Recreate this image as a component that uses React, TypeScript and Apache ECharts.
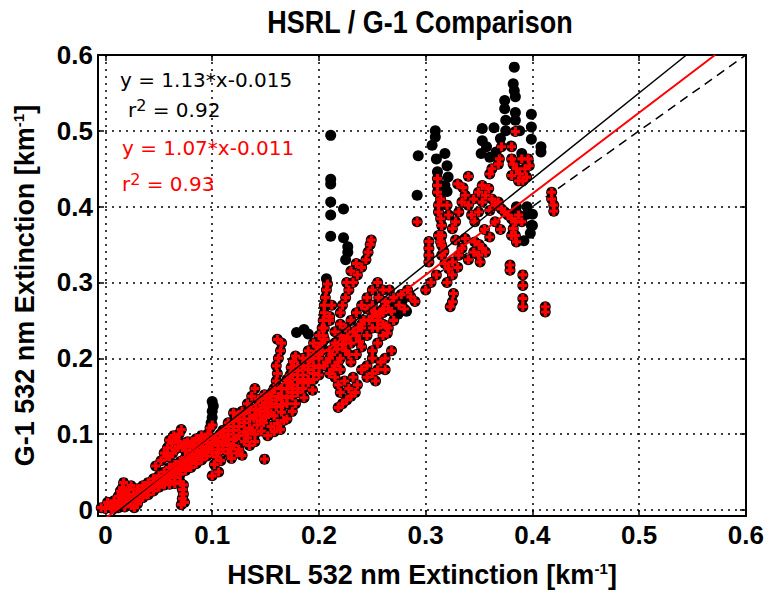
import React, { useEffect, useRef } from 'react';
import * as echarts from 'echarts';

// ---------- axis ticks ----------
const xTicks = [0, 0.1, 0.2, 0.3, 0.4, 0.5, 0.6];
const xTickLabels = ['0', '0.1', '0.2', '0.3', '0.4', '0.5', '0.6'];
const yTicks = [0, 0.1, 0.2, 0.3, 0.4, 0.5, 0.6];
const yTickLabels = ['0', '0.1', '0.2', '0.3', '0.4', '0.5', '0.6'];
const xRange = [-0.007, 0.6];
const yRange = [-0.008, 0.6];

// ---------- fits ----------
const fitAll = [1.13, -0.015]; // slope, intercept (black)
const fitSub = [1.07, -0.011]; // slope, intercept (red)
const oneToOne = [1, 0];

// ---------- G-1 points without the red subset (black only) ----------
const blackOnly: number[][] = [
  [0.099, 0.115], [0.1, 0.122], [0.1, 0.13], [0.101, 0.137], [0.1, 0.143],
  [0.179, 0.234], [0.186, 0.238], [0.19, 0.232],
  [0.207, 0.305], [0.225, 0.33], [0.227, 0.34],
  [0.211, 0.494], [0.211, 0.436], [0.211, 0.43], [0.211, 0.406], [0.223, 0.397],
  [0.211, 0.389], [0.211, 0.361], [0.223, 0.359], [0.227, 0.347],
  [0.27, 0.27], [0.278, 0.276], [0.282, 0.262], [0.274, 0.258],
  [0.383, 0.584], [0.382, 0.562], [0.383, 0.553], [0.384, 0.545], [0.374, 0.54],
  [0.374, 0.529], [0.384, 0.524], [0.399, 0.522], [0.375, 0.514], [0.384, 0.514],
  [0.399, 0.505], [0.353, 0.503], [0.364, 0.504], [0.375, 0.5], [0.399, 0.489],
  [0.353, 0.487], [0.408, 0.479], [0.408, 0.472], [0.309, 0.5], [0.309, 0.492],
  [0.306, 0.481], [0.293, 0.467], [0.318, 0.47], [0.31, 0.463], [0.32, 0.454],
  [0.311, 0.446], [0.321, 0.439], [0.292, 0.415], [0.318, 0.428], [0.32, 0.42],
  [0.357, 0.479], [0.366, 0.472], [0.36, 0.465], [0.352, 0.47], [0.37, 0.49],
  [0.38, 0.48], [0.39, 0.47], [0.388, 0.5],
  [0.38, 0.39], [0.39, 0.385], [0.395, 0.39], [0.399, 0.375], [0.385, 0.4],
  [0.395, 0.4], [0.4, 0.39], [0.398, 0.365], [0.392, 0.355], [0.4, 0.375],
];

// ---------- red subset (also G-1 points) ----------
const redLow: number[][] = [
  [-0.004, 0.003], [0, 0.002], [0.003, 0.006], [0.006, 0.002], [0.009, 0.005], [0.012, 0.003],
  [0.002, 0.01], [0.015, 0.008], [0.018, 0.004], [0.021, 0.009], [0.024, 0.006], [0.027, 0.003],
  [0.03, 0.008], [0.028, 0.015], [0.026, 0.02],
  [0.016, 0.015], [0.017, 0.022], [0.016, 0.029], [0.017, 0.036], [0.014, 0.025], [0.02, 0.02],
  [0.02, 0.012], [0.025, 0.016], [0.03, 0.02], [0.035, 0.024], [0.04, 0.028], [0.045, 0.033],
  [0.05, 0.037], [0.055, 0.042], [0.06, 0.047], [0.065, 0.051], [0.07, 0.056], [0.075, 0.06],
  [0.08, 0.065], [0.085, 0.07], [0.09, 0.075], [0.095, 0.08], [0.1, 0.085],
  [0.03, 0.012], [0.04, 0.02], [0.05, 0.03], [0.06, 0.038], [0.07, 0.047], [0.08, 0.056],
  [0.09, 0.066], [0.1, 0.076],
  [0.03, 0.028], [0.04, 0.036], [0.05, 0.045], [0.06, 0.056], [0.07, 0.064], [0.08, 0.074],
  [0.09, 0.084], [0.1, 0.094],
  [0.005, 0.004], [0.01, 0.008], [0.013, 0.012], [0.022, 0.015], [0.027, 0.02], [0.032, 0.022],
  [0.037, 0.026], [0.042, 0.031], [0.047, 0.035], [0.052, 0.04], [0.057, 0.044], [0.062, 0.049],
  [0.067, 0.053], [0.072, 0.058], [0.077, 0.062], [0.082, 0.067], [0.087, 0.072], [0.092, 0.078],
  [0.097, 0.083], [0.035, 0.016], [0.045, 0.025], [0.055, 0.034], [0.065, 0.043], [0.075, 0.052],
  [0.085, 0.061], [0.095, 0.071], [0.035, 0.032], [0.045, 0.041], [0.055, 0.05], [0.065, 0.06],
  [0.075, 0.069], [0.085, 0.079], [0.095, 0.089], [0.008, 0.012], [0.012, 0.018], [0.022, 0.027],
  [0.024, 0.032],
  [0.045, 0.03], [0.05, 0.031], [0.055, 0.033], [0.06, 0.034], [0.065, 0.035], [0.07, 0.037],
  [0.073, 0.033], [0.072, 0.027], [0.073, 0.021], [0.072, 0.015], [0.074, 0.01], [0.071, 0.007],
  [0.055, 0.075], [0.058, 0.082], [0.062, 0.088], [0.066, 0.094], [0.069, 0.1], [0.071, 0.106],
  [0.065, 0.08], [0.072, 0.085], [0.077, 0.09], [0.081, 0.09], [0.085, 0.094], [0.09, 0.098],
  [0.06, 0.07], [0.052, 0.065], [0.047, 0.058], [0.075, 0.078],
  [0.057, 0.07], [0.063, 0.075], [0.068, 0.082], [0.074, 0.088], [0.079, 0.083], [0.083, 0.086],
  [0.088, 0.09], [0.093, 0.095], [0.064, 0.098], [0.06, 0.092], [0.068, 0.09],
  [0.096, 0.1], [0.098, 0.108], [0.1, 0.112], [0.103, 0.095], [0.105, 0.088], [0.106, 0.08],
  [0.104, 0.07], [0.102, 0.06], [0.106, 0.05], [0.1, 0.045], [0.108, 0.065],
];

const redMid: number[][] = [
  [0.11, 0.095], [0.12, 0.105], [0.13, 0.115], [0.14, 0.125], [0.15, 0.135], [0.16, 0.145],
  [0.17, 0.16], [0.18, 0.172], [0.19, 0.185], [0.2, 0.2],
  [0.11, 0.085], [0.12, 0.093], [0.13, 0.103], [0.15, 0.122], [0.17, 0.148], [0.18, 0.16],
  [0.19, 0.172], [0.2, 0.188],
  [0.11, 0.105], [0.12, 0.117], [0.13, 0.127], [0.15, 0.147], [0.17, 0.172], [0.18, 0.184],
  [0.19, 0.197], [0.2, 0.212],
  [0.105, 0.09], [0.115, 0.1], [0.125, 0.11], [0.135, 0.12], [0.145, 0.13], [0.155, 0.14],
  [0.165, 0.15], [0.175, 0.165], [0.185, 0.178], [0.195, 0.19], [0.115, 0.088], [0.125, 0.098],
  [0.135, 0.108], [0.145, 0.118], [0.155, 0.128], [0.165, 0.138], [0.175, 0.155], [0.185, 0.168],
  [0.195, 0.18], [0.115, 0.115], [0.125, 0.125], [0.135, 0.132], [0.155, 0.15], [0.165, 0.16],
  [0.175, 0.178], [0.185, 0.19], [0.195, 0.205], [0.105, 0.075], [0.117, 0.08], [0.123, 0.075],
  [0.133, 0.095], [0.137, 0.105], [0.113, 0.096],
  [0.14, 0.1], [0.146, 0.104], [0.152, 0.098], [0.158, 0.103], [0.164, 0.106],
  [0.142, 0.112], [0.148, 0.115], [0.155, 0.11], [0.161, 0.114], [0.167, 0.118],
  [0.139, 0.121], [0.145, 0.125], [0.152, 0.128], [0.158, 0.124], [0.165, 0.129],
  [0.141, 0.133], [0.147, 0.138], [0.153, 0.141], [0.16, 0.136], [0.166, 0.139],
  [0.143, 0.146], [0.149, 0.152], [0.156, 0.155], [0.162, 0.15],
  [0.11, 0.08], [0.115, 0.075], [0.12, 0.085], [0.125, 0.08], [0.13, 0.09], [0.135, 0.085],
  [0.14, 0.09], [0.118, 0.068], [0.128, 0.072], [0.112, 0.09], [0.122, 0.095], [0.132, 0.1],
  [0.108, 0.1], [0.115, 0.11], [0.125, 0.12], [0.12, 0.128],
  [0.158, 0.16], [0.16, 0.17], [0.161, 0.18], [0.16, 0.19], [0.162, 0.2], [0.164, 0.21],
  [0.165, 0.22], [0.161, 0.225], [0.172, 0.168], [0.173, 0.178], [0.174, 0.188], [0.176, 0.196],
  [0.178, 0.203],
  [0.18, 0.19], [0.185, 0.2], [0.19, 0.21], [0.195, 0.22], [0.2, 0.23], [0.205, 0.24],
  [0.21, 0.25], [0.19, 0.2], [0.2, 0.215], [0.205, 0.225],
  [0.17, 0.14], [0.175, 0.15], [0.18, 0.155], [0.185, 0.16], [0.19, 0.168], [0.195, 0.172],
  [0.2, 0.178], [0.178, 0.14], [0.186, 0.148], [0.194, 0.158], [0.17, 0.12], [0.175, 0.13],
  [0.149, 0.067],
  [0.133, 0.14], [0.137, 0.15], [0.14, 0.16], [0.128, 0.13],
];

const redUpper: number[][] = [
  [0.202, 0.21], [0.203, 0.22], [0.204, 0.23], [0.203, 0.24], [0.204, 0.25], [0.205, 0.26],
  [0.205, 0.27], [0.206, 0.28], [0.207, 0.29], [0.208, 0.298], [0.21, 0.255], [0.212, 0.27],
  [0.205, 0.19], [0.21, 0.2], [0.215, 0.19], [0.22, 0.2], [0.225, 0.21], [0.23, 0.22],
  [0.235, 0.23], [0.24, 0.24], [0.21, 0.21], [0.215, 0.22], [0.22, 0.23], [0.225, 0.24],
  [0.23, 0.25], [0.215, 0.235], [0.22, 0.245], [0.21, 0.18], [0.22, 0.185], [0.23, 0.195],
  [0.235, 0.205], [0.24, 0.215], [0.2, 0.205], [0.225, 0.225],
  [0.207, 0.195], [0.212, 0.205], [0.217, 0.212], [0.222, 0.218], [0.227, 0.228], [0.232, 0.235],
  [0.237, 0.24], [0.242, 0.25], [0.247, 0.25], [0.252, 0.262], [0.257, 0.258], [0.213, 0.185],
  [0.218, 0.195], [0.228, 0.205], [0.238, 0.222], [0.245, 0.23], [0.255, 0.24], [0.26, 0.245],
  [0.218, 0.135], [0.222, 0.14], [0.226, 0.145], [0.23, 0.15], [0.234, 0.155], [0.22, 0.155],
  [0.228, 0.16], [0.224, 0.17], [0.232, 0.175], [0.215, 0.175], [0.218, 0.165], [0.236, 0.165],
  [0.245, 0.175], [0.25, 0.18], [0.255, 0.185], [0.245, 0.19], [0.25, 0.2], [0.24, 0.185],
  [0.22, 0.26], [0.222, 0.27], [0.225, 0.28], [0.228, 0.29], [0.232, 0.3], [0.236, 0.31],
  [0.24, 0.32], [0.244, 0.33], [0.246, 0.34], [0.248, 0.35], [0.249, 0.356], [0.226, 0.3],
  [0.23, 0.315], [0.235, 0.325],
  [0.235, 0.26], [0.24, 0.27], [0.245, 0.28], [0.25, 0.29], [0.255, 0.3], [0.26, 0.29],
  [0.25, 0.27], [0.256, 0.28], [0.262, 0.275], [0.266, 0.29], [0.245, 0.265],
  [0.25, 0.21], [0.255, 0.22], [0.26, 0.23], [0.265, 0.24], [0.27, 0.25], [0.26, 0.26],
  [0.255, 0.25], [0.25, 0.24], [0.265, 0.265], [0.27, 0.28], [0.262, 0.2], [0.268, 0.21],
  [0.258, 0.195], [0.253, 0.17], [0.262, 0.185],
  [0.24, 0.245], [0.25, 0.255], [0.26, 0.265], [0.263, 0.243], [0.264, 0.233], [0.268, 0.262],
  [0.275, 0.27], [0.286, 0.281], [0.29, 0.275], [0.28, 0.265], [0.283, 0.29], [0.277, 0.284],
];

const redHigh: number[][] = [
  [0.384, 0.499], [0.292, 0.38],
  [0.311, 0.437], [0.311, 0.428], [0.311, 0.419], [0.314, 0.41], [0.312, 0.402], [0.312, 0.393],
  [0.314, 0.384], [0.315, 0.375], [0.315, 0.362], [0.315, 0.349], [0.317, 0.341],
  [0.303, 0.354], [0.303, 0.345], [0.303, 0.336], [0.303, 0.327],
  [0.32, 0.402], [0.3215, 0.389], [0.325, 0.371], [0.328, 0.38], [0.331, 0.393], [0.334, 0.406],
  [0.337, 0.415], [0.34, 0.402], [0.343, 0.389], [0.346, 0.38], [0.3495, 0.393], [0.353, 0.406],
  [0.356, 0.415], [0.359, 0.424], [0.353, 0.428], [0.3495, 0.419], [0.362, 0.41], [0.365, 0.402],
  [0.368, 0.406], [0.371, 0.397], [0.374, 0.393], [0.377, 0.389], [0.3805, 0.384], [0.384, 0.38],
  [0.387, 0.389], [0.39, 0.38], [0.382, 0.371], [0.384, 0.362], [0.385, 0.3535], [0.3805, 0.362],
  [0.353, 0.345], [0.3495, 0.336], [0.351, 0.327], [0.356, 0.34], [0.346, 0.3535], [0.337, 0.358],
  [0.334, 0.345], [0.331, 0.336], [0.325, 0.327], [0.3215, 0.318], [0.325, 0.31], [0.326, 0.2855],
  [0.325, 0.2746], [0.323, 0.268], [0.379, 0.323], [0.379, 0.316], [0.391, 0.31], [0.391, 0.296],
  [0.391, 0.279], [0.391, 0.268], [0.412, 0.268], [0.412, 0.261], [0.418, 0.419], [0.418, 0.41],
  [0.42, 0.402], [0.42, 0.394], [0.368, 0.456], [0.362, 0.45], [0.36, 0.443], [0.369, 0.463],
  [0.371, 0.479], [0.3805, 0.479], [0.3805, 0.463], [0.382, 0.456], [0.385, 0.45], [0.388, 0.443],
  [0.391, 0.434], [0.3945, 0.439], [0.397, 0.454], [0.396, 0.463], [0.39, 0.463], [0.393, 0.45],
  [0.387, 0.434], [0.3805, 0.441], [0.328, 0.356], [0.314, 0.3535], [0.315, 0.336], [0.318, 0.325],
  [0.312, 0.362],
  [0.3, 0.29], [0.305, 0.3], [0.31, 0.31], [0.32, 0.3], [0.33, 0.32], [0.34, 0.33], [0.345, 0.34],
  [0.35, 0.35], [0.36, 0.36], [0.37, 0.37], [0.365, 0.38], [0.355, 0.37], [0.36, 0.395],
  [0.345, 0.41], [0.335, 0.425], [0.33, 0.43], [0.34, 0.44],
];

const FONT_B = "'Liberation Sans', Arial, sans-serif";
const FONT_A = "'DejaVu Sans', sans-serif";
const PLUS = 'path://M0,2.6H2.6V0H5.4V2.6H8V5.4H5.4V8H2.6V5.4H0Z';

function fitLine(fit: number[]) {
  const [m, b] = fit;
  const x0 = 0;
  const x1 = Math.min(xRange[1], (yRange[1] - b) / m);
  return [[x0, m * x0 + b], [x1, m * x1 + b]];
}

export default function App() {
  const ref = useRef<HTMLDivElement>(null);
  useEffect(() => {
    const chart = echarts.init(ref.current!, null, { renderer: 'svg' });
    const allRed = [...redLow, ...redMid, ...redUpper, ...redHigh];
    const black = [...blackOnly, ...allRed];
    const frame = { show: true, onZero: false, lineStyle: { color: '#000', width: 2 } };
    const tick = (vals: number[]) => ({
      show: true, inside: true, length: 6, customValues: vals,
      lineStyle: { color: '#000', width: 1.5 },
    });
    const grid = { show: true, lineStyle: { color: '#000', type: [2, 5], width: 1.5 } };
    const tickFont = { color: '#000', fontFamily: FONT_B, fontWeight: 'bold', fontSize: 26 };
    const nameStyle = {
      color: '#000', fontFamily: FONT_B, fontWeight: 'bold', fontSize: 27,
      rich: {
        s: { color: '#000', fontFamily: FONT_B, fontWeight: 'bold', fontSize: 15, verticalAlign: 'top' },
      },
    };
    const supStyle = (c: string) => ({
      s: { fontFamily: FONT_A, fontSize: 16, fill: c, verticalAlign: 'top', padding: [0, 0, 9, 0] },
    });
    const option: any = {
      animation: false,
      backgroundColor: '#fff',
      grid: { left: 98, right: 18, top: 55, bottom: 75, containLabel: false },
      xAxis: [
        {
          type: 'value', min: xRange[0], max: xRange[1], position: 'bottom',
          axisLine: frame, axisTick: tick(xTicks),
          axisLabel: {
            ...tickFont, margin: 6, customValues: xTicks,
            formatter: (v: number) => xTickLabels[xTicks.findIndex((t) => Math.abs(t - v) < 1e-9)] ?? '',
          },
          splitLine: grid,
          name: 'HSRL 532 nm Extinction [km{s|-1}]', nameLocation: 'middle', nameGap: 45,
          nameTextStyle: nameStyle,
        },
        {
          type: 'value', min: xRange[0], max: xRange[1], position: 'top',
          axisLine: frame, axisTick: tick(xTicks), axisLabel: { show: false }, splitLine: { show: false },
        },
      ],
      yAxis: [
        {
          type: 'value', min: yRange[0], max: yRange[1], position: 'left',
          axisLine: frame, axisTick: tick(yTicks),
          axisLabel: {
            ...tickFont, margin: 5, customValues: yTicks,
            formatter: (v: number) => yTickLabels[yTicks.findIndex((t) => Math.abs(t - v) < 1e-9)] ?? '',
          },
          splitLine: grid,
          name: 'G-1 532 nm Extinction [km{s|-1}]', nameLocation: 'middle', nameGap: 60, nameRotate: 90,
          nameTextStyle: nameStyle,
        },
        {
          type: 'value', min: yRange[0], max: yRange[1], position: 'right',
          axisLine: frame, axisTick: tick(yTicks), axisLabel: { show: false }, splitLine: { show: false },
        },
      ],
      series: [
        {
          type: 'line', data: fitLine(oneToOne), showSymbol: false, z: 1, silent: true,
          lineStyle: { color: '#000', width: 1.5, type: [9, 6] },
        },
        {
          type: 'scatter', name: 'G-1', data: black, symbol: 'circle', symbolSize: 11,
          itemStyle: { color: '#000', opacity: 1 }, z: 2, silent: true,
        },
        {
          type: 'scatter', name: 'subset', data: allRed, symbol: PLUS, symbolSize: 9,
          itemStyle: { color: '#ff0000', opacity: 1 }, z: 3, silent: true,
        },
        {
          type: 'line', data: fitLine(fitAll), showSymbol: false, z: 5, silent: true,
          lineStyle: { color: '#000', width: 1.5 },
        },
        {
          type: 'line', data: fitLine(fitSub), showSymbol: false, z: 6, silent: true,
          lineStyle: { color: '#ff0000', width: 2 },
        },
      ],
      graphic: [
        {
          type: 'text', x: 420, y: 22, z: 10, scaleY: 1.18,
          style: {
            text: 'HSRL / G-1 Comparison', fill: '#000', align: 'center', verticalAlign: 'middle',
            fontFamily: FONT_B, fontWeight: 'bold', fontSize: 27,
          },
        },
        {
          type: 'text', x: 120, y: 80, z: 10,
          style: {
            text: 'y = 1.13*x-0.015', fill: '#000', verticalAlign: 'middle',
            fontFamily: FONT_A, fontSize: 20,
          },
        },
        {
          type: 'text', x: 128, y: 110, z: 10,
          style: {
            text: 'r{s|2} = 0.92', fill: '#000', verticalAlign: 'middle',
            fontFamily: FONT_A, fontSize: 20, rich: supStyle('#000'),
          },
        },
        {
          type: 'text', x: 122, y: 148, z: 10,
          style: {
            text: 'y = 1.07*x-0.011', fill: '#ff0000', verticalAlign: 'middle',
            fontFamily: FONT_A, fontSize: 20,
          },
        },
        {
          type: 'text', x: 122, y: 184, z: 10,
          style: {
            text: 'r{s|2} = 0.93', fill: '#ff0000', verticalAlign: 'middle',
            fontFamily: FONT_A, fontSize: 20, rich: supStyle('#ff0000'),
          },
        },
      ],
    };
    chart.setOption(option);
    return () => chart.dispose();
  }, []);
  return (
    <div
      ref={ref}
      style={{ position: 'absolute', left: 0, top: 0, width: 767, height: 593, background: '#fff' }}
    />
  );
}
